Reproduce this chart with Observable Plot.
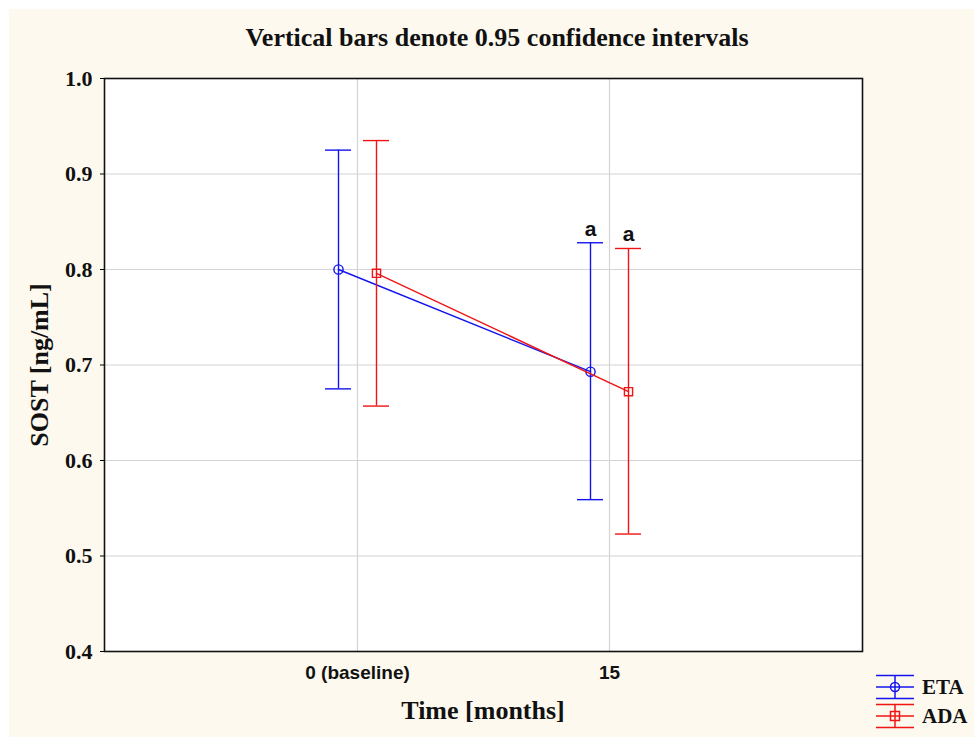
<!DOCTYPE html>
<html>
<head>
<meta charset="utf-8">
<script src="https://cdn.jsdelivr.net/npm/d3@7"></script>
<script src="https://cdn.jsdelivr.net/npm/@observablehq/plot@0.6"></script>
<style>
  html, body { margin: 0; padding: 0; background: #ffffff; }
  #wrap { position: relative; width: 974px; height: 737px; overflow: hidden; background: #ffffff; }
  #cream { position: absolute; left: 9px; top: 9px; right: 0; bottom: 0; background: #fdf9ee; }
  #chart { position: absolute; left: 0; top: 0; }
  .serif { font-family: "Liberation Serif", "DejaVu Serif", serif; font-weight: bold; color: #111; }
  #title { position: absolute; top: 23px; left: 0; width: 994px; text-align: center; font-size: 26px; }
  #ylab { position: absolute; left: 40px; top: 365px; transform: translate(-50%, -50%) rotate(-90deg); font-size: 26px; white-space: nowrap; }
  #xlab { position: absolute; top: 696px; left: 104px; width: 758px; text-align: center; font-size: 26px; }
  #legend { position: absolute; left: 874px; top: 670px; }
</style>
</head>
<body>
<div id="wrap">
  <div id="cream"></div>
  <div id="chart"></div>
  <div id="title" class="serif">Vertical bars denote 0.95 confidence intervals</div>
  <div id="ylab" class="serif">SOST [ng/mL]</div>
  <div id="xlab" class="serif">Time [months]</div>
  <div id="legend"></div>
</div>
<script>
// ---- data ----
const times = ["0 (baseline)", "15"];
const groups = ["ETA", "ADA"];
const etaMean = [0.800, 0.693];
const etaLow  = [0.675, 0.559];
const etaHigh = [0.925, 0.828];
const adaMean = [0.796, 0.672];
const adaLow  = [0.657, 0.523];
const adaHigh = [0.935, 0.822];
const etaSig = ["", "a"];
const adaSig = ["", "a"];
const yTicks = [0.4, 0.5, 0.6, 0.7, 0.8, 0.9, 1.0];

const colors = { ETA: "#1414f0", ADA: "#f01414" };
const offsets = { ETA: -19, ADA: 19 };
const symbols = { ETA: "circle", ADA: "square" };

function rows(group, mean, low, high, sig) {
  return times.map((t, i) => ({ time: t, group, mean: mean[i], low: low[i], high: high[i], sig: sig[i] }));
}
const series = {
  ETA: rows("ETA", etaMean, etaLow, etaHigh, etaSig),
  ADA: rows("ADA", adaMean, adaLow, adaHigh, adaSig)
};

function groupMarks(g) {
  const data = series[g];
  const c = colors[g];
  const dx = offsets[g];
  return [
    Plot.ruleX(data, { x: "time", y1: "low", y2: "high", stroke: c, strokeWidth: 1.4, dx }),
    Plot.ruleY(data, { x1: "time", x2: "time", y: "high", stroke: c, strokeWidth: 1.4, dx, insetLeft: -13, insetRight: -13 }),
    Plot.ruleY(data, { x1: "time", x2: "time", y: "low", stroke: c, strokeWidth: 1.4, dx, insetLeft: -13, insetRight: -13 }),
    Plot.line(data, { x: "time", y: "mean", stroke: c, strokeWidth: 1.4, dx }),
    Plot.dot(data, { x: "time", y: "mean", stroke: c, fill: "white", fillOpacity: 0, symbol: symbols[g], r: 4.6, strokeWidth: 1.4, dx }),
    Plot.text(data, { x: "time", y: "high", text: "sig", dx, dy: -7, lineAnchor: "bottom",
      fontFamily: "Liberation Sans, Arial, sans-serif", fontWeight: "bold", fontSize: 21, fill: "#111" })
  ];
}

const chart = Plot.plot({
  width: 974,
  height: 737,
  marginTop: 78,
  marginBottom: 86,
  marginLeft: 104,
  marginRight: 112,
  style: { background: "transparent", overflow: "visible" },
  x: { type: "point", domain: times, padding: 1 },
  y: { domain: [0.4, 1.0] },
  marks: [
    Plot.frame({ fill: "white" }),
    Plot.gridY(yTicks, { stroke: "#d4d4d4", strokeOpacity: 1, strokeWidth: 1.2 }),
    Plot.gridX(times, { stroke: "#d4d4d4", strokeOpacity: 1, strokeWidth: 1.2 }),
    Plot.axisY(yTicks, { tickFormat: d3.format(".1f"), tickSize: 4, tickPadding: 8, label: null,
      fontFamily: "Liberation Serif, DejaVu Serif, serif", fontWeight: "bold", fontSize: 22, fill: "#111" }),
    Plot.axisX(times, { tickSize: 0, tickPadding: 14, label: null,
      fontFamily: "Liberation Sans, Arial, sans-serif", fontWeight: "bold", fontSize: 19, fill: "#111" }),
    ...groupMarks("ETA"),
    ...groupMarks("ADA"),
    Plot.frame({ stroke: "#111", strokeWidth: 1.6 })
  ]
});
document.getElementById("chart").appendChild(chart);

// ---- legend ----
const legend = d3.select("#legend").append("svg").attr("width", 100).attr("height", 64);
groups.forEach((g, i) => {
  const y0 = i * 29 + 17;
  const gEl = legend.append("g").attr("stroke", colors[g]).attr("stroke-width", 1.5).attr("fill", "none");
  [-11.5, 0, 11.5].forEach(o => gEl.append("line").attr("x1", 2).attr("x2", 40).attr("y1", y0 + o).attr("y2", y0 + o));
  gEl.append("line").attr("x1", 21).attr("x2", 21).attr("y1", y0 - 11.5).attr("y2", y0 + 11.5);
  if (symbols[g] === "circle") gEl.append("circle").attr("cx", 21).attr("cy", y0).attr("r", 4.5);
  else gEl.append("rect").attr("x", 16.5).attr("y", y0 - 4.5).attr("width", 9).attr("height", 9);
  legend.append("text").attr("x", 48).attr("y", y0).attr("dy", "0.35em")
    .attr("font-family", "Liberation Serif, DejaVu Serif, serif").attr("font-weight", "bold")
    .attr("font-size", 21).attr("fill", "#111").text(g);
});
</script>
</body>
</html>
